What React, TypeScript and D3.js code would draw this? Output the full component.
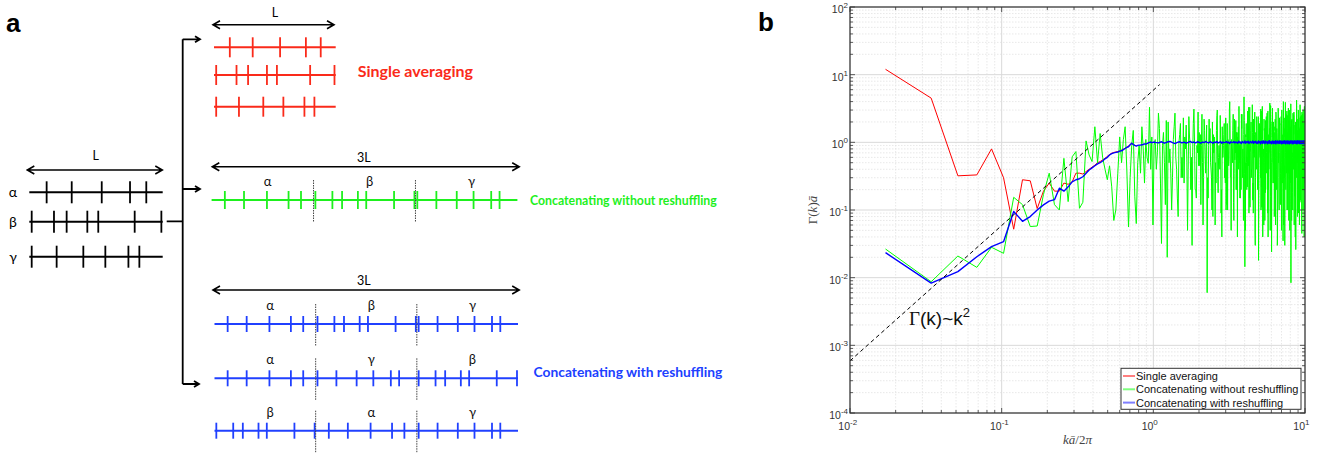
import React from "react";
import * as d3 from "d3";

const W = 1323;
const H = 457;

// ---------- panel a : spike positions along one window, as a fraction of L ----------
const ALPHA = [0.13, 0.318, 0.543, 0.755, 0.877];
const BETA = [0.018, 0.185, 0.28, 0.435, 0.517, 0.79, 0.99];
const GAMMA = [0.018, 0.205, 0.405, 0.57, 0.743, 0.825];
const TRAIN_NAMES = ["α", "β", "γ"];
const RESHUFFLED = [
  ["α", "β", "γ"],
  ["α", "γ", "β"],
  ["β", "α", "γ"],
];

// ---------- panel b : structure factor, sampled at k = n * DK ----------
const DK = 0.01715;
// n = 1..45
const RED_HEAD = [
  12, 4.5, 0.32, 0.33, 0.8, 0.3, 0.052, 0.28, 0.27, 0.105,
  0.19, 0.25, 0.19, 0.19, 0.25, 0.24, 0.26, 0.35, 0.35, 0.34,
  0.37, 0.4, 0.43, 0.46, 0.5, 0.52, 0.55, 0.58, 0.62, 0.66,
  0.69, 0.71, 0.72, 0.73, 0.75, 0.77, 0.79, 0.82, 0.85, 0.88,
  0.93, 0.96, 0.93, 0.9, 0.89,
];
// n = 1..59
const GREEN_HEAD = [
  0.0265, 0.0087, 0.0209, 0.0142, 0.0281, 0.0229, 0.154, 0.12, 0.057, 0.058,
  0.17, 0.35, 0.12, 0.1, 0.58, 0.133, 0.61, 0.73, 0.106, 0.13,
  1.05, 0.65, 0.52, 1.7, 0.5, 1.35, 0.6, 0.4, 0.28, 0.45,
  0.22, 0.07, 0.1, 0.35, 1.2, 0.5, 1.1, 1.7, 0.39, 0.056,
  0.3, 0.9, 1.5, 0.16, 0.063, 0.5, 0.9, 0.35, 1.7, 0.8,
  0.25, 1.1, 0.6, 0.49, 3.3, 0.4, 1.2, 0.06, 0.9,
];
const BLUE_HEAD = [
  0.0234, 0.0083, 0.0123, 0.0204, 0.0287, 0.034, 0.095, 0.068, 0.08, 0.1,
  0.119, 0.135, 0.142, 0.21, 0.19, 0.22, 0.26, 0.28, 0.29, 0.31,
  0.35, 0.39, 0.42, 0.45, 0.48, 0.5, 0.53, 0.57, 0.6, 0.65,
  0.68, 0.7, 0.71, 0.72, 0.74, 0.75, 0.78, 0.81, 0.84, 0.86,
  0.92, 0.97, 0.93, 0.9, 0.88, 0.9, 0.91, 0.91, 0.92, 0.93,
  0.95, 0.94, 0.96, 0.98, 1.0, 1.01, 0.99, 1.0, 1.01,
];
// tails: n = 60 + 3i (A), 61 + 3i (B), 62 + 3i (C)
const TAIL_START = 60;
const TAIL_STEP = 3;
const GREEN_TAIL_A = [
  1.1, 2.7, 0.032, 0.5, 0.02, 0.8, 0.3, 2.7, 0.15, 1.3, 0.6, 0.25, 1.8, 0.4, 0.9, 0.03, 3.1, 0.2, 0.7, 1.4, 0.12, 0.5, 2.2, 0.35, 0.006,
  0.9, 1.6, 0.3, 0.08, 1.2, 0.5, 2.5, 0.18, 0.7, 1.1, 0.04, 0.6, 1.9, 0.25, 1.0, 0.1, 0.45, 4.0, 0.3, 0.8, 1.5, 0.07, 0.55, 2.1, 0.2,
  1.2, 0.4, 0.9, 0.15, 2.6, 0.6, 0.35, 4.7, 0.0145, 1.3, 0.5, 0.22, 1.7, 0.09, 3.3, 0.8, 0.3, 1.0, 0.14, 2.2, 0.6, 0.05, 1.4, 0.4, 0.9,
  0.25, 0.018, 1.8, 0.7, 0.3, 2.9, 0.11, 1.1, 0.5, 0.06, 1.6, 0.8, 0.2, 2.4, 0.45, 1.0, 0.04, 1.3, 0.7, 3.8, 0.16, 0.9, 0.024, 2.0, 0.5,
  1.2, 0.3, 0.08, 1.7, 0.6, 2.8, 0.2, 0.95, 0.04, 1.4, 0.5, 0.12, 2.3, 0.7, 0.35, 1.1, 0.05, 1.9, 0.4, 0.9, 4.0, 0.15, 0.6, 0.03, 1.5,
  0.3, 2.6, 0.8, 0.1, 1.2, 0.45, 3.2, 0.07, 0.9, 1.6, 0.25, 0.55, 0.0084, 2.1, 1.0, 0.6, 0.18, 2.7, 0.4, 1.3, 0.06, 0.8, 1.8, 0.3, 0.026,
  1.1, 4.2, 0.5, 0.2, 1.5, 0.7, 0.09, 2.3, 0.4, 1.0, 0.13, 1.7, 0.6, 0.3, 2.5, 0.05, 0.9, 1.2, 0.35, 3.0, 0.2, 0.8, 0.04, 1.4, 0.6,
];
const GREEN_TAIL_B = [
  0.4, 1.6, 0.9, 0.12, 2.0, 0.35, 1.1, 0.6, 0.08, 1.9, 0.3, 1.2, 0.5, 2.4, 0.2, 0.7, 1.0, 0.15, 2.8, 0.45, 0.9, 0.06, 1.5, 0.7, 0.3,
  2.2, 0.5, 0.1, 1.3, 0.8, 0.25, 3.0, 0.6, 0.4, 0.09, 1.7, 0.9, 0.3, 2.3, 0.12, 1.1, 0.55, 1.8, 0.05, 0.8, 2.6, 0.35, 1.0, 0.2, 1.4,
  0.6, 3.4, 0.15, 0.9, 1.6, 0.3, 0.07, 2.1, 0.5, 1.2, 0.2, 2.9, 0.45, 0.8, 0.11, 1.5, 0.4, 3.6, 0.25, 0.7, 1.3, 0.03, 1.0, 2.4, 0.35,
  0.9, 0.14, 1.9, 0.6, 3.1, 0.22, 1.1, 0.04, 0.8, 2.2, 0.5, 0.18, 1.4, 0.7, 2.7, 0.09, 1.0, 0.4, 1.6, 0.3, 3.5, 0.6, 0.13, 1.2, 0.5,
  2.0, 0.25, 0.8, 1.5, 0.06, 2.6, 0.4, 1.1, 0.2, 3.2, 0.7, 0.1, 1.8, 0.45, 0.9, 2.4, 0.15, 1.3, 0.55, 0.035, 2.1, 0.8, 0.3, 1.6, 3.9,
  0.2, 1.0, 0.6, 2.5, 0.12, 1.4, 0.35, 0.8, 3.0, 0.05, 1.7, 0.5, 1.0, 0.25, 2.2, 0.7, 0.1, 1.5, 0.4, 2.8, 0.9, 0.16, 1.2, 0.6, 2.0,
  0.3, 3.3, 0.7, 0.08, 1.4, 0.5, 2.4, 0.2, 1.0, 0.6, 3.6, 0.14, 0.9, 1.8, 0.35, 0.045, 1.3, 2.6, 0.5, 0.8, 0.2, 1.6, 3.1, 0.4, 1.0,
];
const GREEN_TAIL_C = [
  0.7, 0.25, 1.4, 2.1, 0.5, 0.1, 1.7, 0.4, 1.0, 0.3, 2.3, 0.8, 0.05, 1.2, 0.6, 1.9, 0.2, 0.9, 0.45, 1.3, 2.6, 0.3, 0.7, 1.8, 0.15,
  1.0, 0.4, 2.0, 0.7, 0.06, 1.5, 0.3, 0.9, 2.5, 0.2, 0.6, 1.3, 0.45, 0.1, 1.9, 0.8, 3.0, 0.3, 1.1, 0.5, 0.13, 2.2, 0.7, 1.4, 0.04,
  1.7, 0.5, 1.0, 0.2, 2.6, 0.8, 1.3, 0.35, 0.05, 1.9, 0.6, 1.1, 3.3, 0.15, 0.7, 2.0, 0.4, 1.4, 0.09, 0.9, 2.8, 0.3, 0.6, 1.5, 0.2,
  2.4, 0.4, 0.8, 1.7, 0.1, 1.2, 3.4, 0.3, 0.6, 1.5, 0.07, 2.1, 0.9, 0.35, 1.3, 2.9, 0.2, 0.7, 1.1, 0.05, 1.9, 0.5, 1.0, 3.2, 0.25,
  0.6, 1.4, 0.15, 2.2, 0.8, 0.4, 1.6, 0.03, 1.1, 2.7, 0.3, 0.7, 1.9, 0.12, 1.0, 0.5, 3.0, 0.25, 1.3, 0.8, 0.06, 2.3, 0.45, 1.2, 0.7,
  1.6, 0.35, 2.9, 0.8, 0.1, 1.2, 0.5, 2.1, 0.2, 1.4, 0.9, 3.7, 0.3, 0.07, 1.7, 0.6, 1.1, 0.4, 2.5, 0.15, 0.8, 1.3, 0.04, 2.0, 0.5,
  1.2, 0.6, 2.2, 0.15, 1.0, 3.0, 0.4, 0.8, 0.06, 1.6, 0.3, 2.4, 0.9, 0.5, 1.4, 2.8, 0.2, 0.7, 0.1, 1.9, 0.5, 1.1, 3.4, 0.25, 0.8,
];
const BLUE_TAIL = [
  1.0, 0.98, 1.02, 0.97, 1.01, 1.03, 0.99, 0.96, 1.0, 1.02, 0.98, 1.01, 0.97, 1.0, 1.03, 0.99, 1.01, 0.98, 1.02, 1.0, 0.97, 1.01, 0.99, 1.03, 1.0,
  0.98, 1.02, 1.0, 0.97, 1.01, 0.99, 1.03, 0.98, 1.0, 1.02, 0.97, 1.01, 0.99, 1.0, 1.03, 0.98, 1.01, 0.96, 1.02, 1.0, 0.99, 1.03, 0.98, 1.01, 1.0,
  0.97, 1.04, 0.99, 1.01, 0.96, 1.03, 1.0, 0.98, 1.05, 0.97, 1.02, 0.99, 1.04, 0.96, 1.01, 1.03, 0.98, 1.0, 1.05, 0.97, 1.02, 0.99, 1.04, 0.97, 1.01,
  0.96, 1.05, 0.99, 1.02, 0.95, 1.04, 1.0, 0.97, 1.06, 0.98, 1.03, 0.96, 1.05, 0.99, 1.01, 0.95, 1.04, 0.98, 1.06, 0.97, 1.02, 1.0, 0.95, 1.05, 0.98,
  1.04, 0.96, 1.02, 0.98, 1.06, 0.95, 1.03, 0.99, 1.05, 0.96, 1.01, 1.04, 0.97, 1.06, 0.98, 1.02, 0.95, 1.05, 1.0, 0.96, 1.04, 0.98, 1.06, 0.97, 1.03,
  0.95, 1.05, 0.99, 1.03, 0.96, 1.06, 0.98, 1.02, 0.95, 1.04, 1.0, 0.97, 1.06, 0.99, 1.03, 0.95, 1.05, 0.98, 1.02, 0.96, 1.06, 0.99, 1.03, 0.97, 1.05,
  0.98, 1.04, 0.95, 1.06, 1.0, 0.97, 1.05, 0.98, 1.03, 0.96, 1.06, 0.99, 1.02, 0.95, 1.05, 0.97, 1.04, 1.0, 0.96, 1.06, 0.98, 1.03, 0.95, 1.05, 1.0,
];
// guide line  Γ = C k^2
const FIT_C = 5.9;
const FIT_K = [0.01, 1.1];

const X_EXP = [-2, -1, 0, 1];
const Y_EXP = [-4, -3, -2, -1, 0, 1, 2];
const LEGEND = ["Single averaging", "Concatenating without reshuffling", "Concatenating with reshuffling"];

const RED = "#fa2a1a";
const GREEN = "#1ef01e";
const BLUE = "#2040ff";
const LINE_RED = "#ff0000";
const LINE_GREEN = "#00ff00";
const LINE_BLUE = "#0000ff";
const AX = "#333333";

const TRAIN: Record<string, number[]> = { α: ALPHA, β: BETA, γ: GAMMA };
const FONT_A = "Lato, 'Liberation Sans', sans-serif";
const FONT_B = "'Liberation Sans', Arial, sans-serif";
const SERIF = "'Liberation Serif', 'DejaVu Serif', serif";

function Arrow2({ x0, x1, y }: { x0: number; x1: number; y: number }) {
  const h = 7, w = 4;
  return (
    <path
      d={`M${x0},${y}H${x1}M${x0 + h},${y - w}L${x0},${y}L${x0 + h},${y + w}M${x1 - h},${y - w}L${x1},${y}L${x1 - h},${y + w}`}
      stroke="#000" strokeWidth={1.6} fill="none"
    />
  );
}

function ArrowR({ x0, x1, y }: { x0: number; x1: number; y: number }) {
  return (
    <path d={`M${x0},${y}H${x1}M${x1 - 5},${y - 3}L${x1},${y}L${x1 - 5},${y + 3}`}
      stroke="#000" strokeWidth={1.8} fill="none" />
  );
}

function Train({ x0, x1, y, order, color, half, labels }: {
  x0: number; x1: number; y: number; order: string[]; color: string; half: number; labels?: boolean;
}) {
  const seg = (x1 - x0) / order.length;
  return (
    <g>
      <line x1={x0} x2={x1} y1={y} y2={y} stroke={color} strokeWidth={2} />
      {order.map((name, i) => {
        const s = d3.scaleLinear().domain([0, 1]).range([x0 + i * seg, x0 + (i + 1) * seg]);
        return (
          <g key={i}>
            {TRAIN[name].map((t, j) => (
              <line key={j} x1={s(t)} x2={s(t)} y1={y - half} y2={y + half} stroke={color} strokeWidth={1.8} />
            ))}
            {labels && (
              <text x={s(0.5) + 5} y={y - 14} textAnchor="middle" fontSize={13} fontFamily={FONT_A} fill="#111">{name}</text>
            )}
            {labels && i > 0 && (
              <line x1={s(0)} x2={s(0)} y1={y - 20} y2={y + 22} stroke="#444" strokeWidth={1} strokeDasharray="1.5,1" />
            )}
          </g>
        );
      })}
    </g>
  );
}

function PanelA() {
  const leftY = [192.3, 221.7, 256.7];
  const redY = [47.3, 75, 106.7];
  const blueY = [324, 378.3, 430.7];
  return (
    <g>
      <text x={6} y={32} fontSize={26} fontWeight="bold" fontFamily={FONT_B}>a</text>

      {/* original three sequences */}
      <Arrow2 x0={27.3} x1={162.3} y={170} />
      <text x={95.7} y={160} textAnchor="middle" fontSize={12.5} fontFamily={FONT_A}>L</text>
      {TRAIN_NAMES.map((n, i) => (
        <g key={n}>
          <text x={13} y={leftY[i] + 5} textAnchor="middle" fontSize={14} fontFamily={FONT_A}>{n}</text>
          <Train x0={29.3} x1={162.7} y={leftY[i]} order={[n]} color="#000" half={11} />
        </g>
      ))}

      {/* bracket */}
      <path d="M166.7,221.3H182.7M182.7,39.3V384" stroke="#000" strokeWidth={1.8} fill="none" />
      <ArrowR x0={182.7} x1={200} y={39.3} />
      <ArrowR x0={182.7} x1={200} y={189} />
      <ArrowR x0={182.7} x1={199} y={384} />

      {/* single averaging */}
      <Arrow2 x0={213} x1={334} y={24.7} />
      <text x={275} y={16.5} textAnchor="middle" fontSize={12.5} fontFamily={FONT_A}>L</text>
      {TRAIN_NAMES.map((n, i) => (
        <Train key={n} x0={214} x1={335.7} y={redY[i]} order={[n]} color={RED} half={10} />
      ))}
      <text x={357.7} y={77} fontSize={16} fontWeight="bold" fontFamily={FONT_A} fill={RED}>Single averaging</text>

      {/* concatenating without reshuffling */}
      <Arrow2 x0={212.3} x1={519.2} y={166.7} />
      <text x={363.8} y={162} textAnchor="middle" fontSize={12.5} fontFamily={FONT_A}>3L</text>
      <Train x0={211.6} x1={517.4} y={200} order={TRAIN_NAMES} color={GREEN} half={9} labels />
      <text x={530} y={204.5} fontSize={12.3} fontWeight="bold" fontFamily={FONT_A} fill={GREEN}>Concatenating without reshuffling</text>

      {/* concatenating with reshuffling */}
      <Arrow2 x0={213} x1={519.2} y={290} />
      <text x={363.8} y={285} textAnchor="middle" fontSize={12.5} fontFamily={FONT_A}>3L</text>
      {RESHUFFLED.map((ord, i) => (
        <Train key={i} x0={214.5} x1={518} y={blueY[i]} order={ord} color={BLUE} half={8} labels />
      ))}
      <text x={533.6} y={376.5} fontSize={13.8} fontWeight="bold" fontFamily={FONT_A} fill={BLUE}>Concatenating with reshuffling</text>
    </g>
  );
}

function PanelB() {
  const x = d3.scaleLog().domain([0.01, 10]).range([850, 1305]);
  const y = d3.scaleLog().domain([1e-4, 100]).range([413, 7]);
  const [xl, xr] = x.range();
  const [yb, yt] = y.range();

  const xMinor: number[] = [];
  X_EXP.slice(0, -1).forEach((e) => { for (let m = 2; m <= 9; m++) xMinor.push(m * 10 ** e); });
  const yMinor: number[] = [];
  Y_EXP.slice(0, -1).forEach((e) => { for (let m = 2; m <= 9; m++) yMinor.push(m * 10 ** e); });

  const head = (arr: number[]) => arr.map((v, i) => [(i + 1) * DK, v] as [number, number]);
  const tail = (arr: number[], off = 0) =>
    arr.map((v, i) => [(TAIL_START + off + i * TAIL_STEP) * DK, v] as [number, number]);
  const line = d3.line<[number, number]>().x((d) => x(d[0])).y((d) => y(d[1]));

  const redPts = head(RED_HEAD);
  const greenTail = [...tail(GREEN_TAIL_A, 0), ...tail(GREEN_TAIL_B, 1), ...tail(GREEN_TAIL_C, 2)]
    .sort((a, b) => a[0] - b[0]);
  const greenPts = [...head(GREEN_HEAD), ...greenTail];
  const bluePts = [...head(BLUE_HEAD), ...tail(BLUE_TAIL)];
  const fitPts = FIT_K.map((k) => [k, FIT_C * k * k] as [number, number]);

  const lg = { x: 1121, y: 368.3, w: 180, h: 41 };

  return (
    <g>
      <text x={758} y={31} fontSize={26} fontWeight="bold" fontFamily={FONT_B}>b</text>
      <rect x={xl} y={yt} width={xr - xl} height={yb - yt} fill="#fff" />
      {/* grid */}
      <g stroke="#e2e2e2" strokeWidth={0.8} strokeDasharray="1.5,1.5">
        {xMinor.map((v) => <line key={"gx" + v} x1={x(v)} x2={x(v)} y1={yt} y2={yb} />)}
        {yMinor.map((v) => <line key={"gy" + v} x1={xl} x2={xr} y1={y(v)} y2={y(v)} />)}
      </g>
      <g stroke="#d9d9d9" strokeWidth={1}>
        {X_EXP.map((e) => <line key={"Gx" + e} x1={x(10 ** e)} x2={x(10 ** e)} y1={yt} y2={yb} />)}
        {Y_EXP.map((e) => <line key={"Gy" + e} x1={xl} x2={xr} y1={y(10 ** e)} y2={y(10 ** e)} />)}
      </g>

      <defs>
        <clipPath id="plotclip"><rect x={xl} y={yt} width={xr - xl} height={yb - yt} /></clipPath>
      </defs>
      <g clipPath="url(#plotclip)" fill="none" strokeLinejoin="round">
        <path d={line(redPts) ?? ""} stroke={LINE_RED} strokeWidth={1} />
        <path d={line(greenPts) ?? ""} stroke={LINE_GREEN} strokeWidth={1} />
        <path d={line(bluePts) ?? ""} stroke={LINE_BLUE} strokeWidth={1.4} />
        <path d={line(fitPts) ?? ""} stroke="#000" strokeWidth={1} strokeDasharray="4,3" />
      </g>

      {/* box + ticks */}
      <rect x={xl} y={yt} width={xr - xl} height={yb - yt} fill="none" stroke={AX} strokeWidth={1.2} />
      <g stroke={AX} strokeWidth={0.8}>
        {X_EXP.map((e) => (
          <g key={"tx" + e}>
            <line x1={x(10 ** e)} x2={x(10 ** e)} y1={yb} y2={yb - 5} />
            <line x1={x(10 ** e)} x2={x(10 ** e)} y1={yt} y2={yt + 5} />
          </g>
        ))}
        {xMinor.map((v) => (
          <g key={"mx" + v}>
            <line x1={x(v)} x2={x(v)} y1={yb} y2={yb - 3} />
            <line x1={x(v)} x2={x(v)} y1={yt} y2={yt + 3} />
          </g>
        ))}
        {Y_EXP.map((e) => (
          <g key={"ty" + e}>
            <line x1={xl} x2={xl + 5} y1={y(10 ** e)} y2={y(10 ** e)} />
            <line x1={xr} x2={xr - 5} y1={y(10 ** e)} y2={y(10 ** e)} />
          </g>
        ))}
        {yMinor.map((v) => (
          <g key={"my" + v}>
            <line x1={xl} x2={xl + 3} y1={y(v)} y2={y(v)} />
            <line x1={xr} x2={xr - 3} y1={y(v)} y2={y(v)} />
          </g>
        ))}
      </g>

      {/* tick labels */}
      <g fontFamily={FONT_B} fill={AX}>
        {X_EXP.map((e) => (
          <g key={"lx" + e}>
            <text x={x(10 ** e)} y={430} textAnchor="end" fontSize={10.5}>10</text>
            <text x={x(10 ** e)} y={425} fontSize={8}>{e}</text>
          </g>
        ))}
        {Y_EXP.map((e) => (
          <text key={"ly" + e} x={848} y={y(10 ** e) + 6} textAnchor="end" fontSize={10.5}>
            10<tspan dy={-5} fontSize={8}>{e}</tspan>
          </text>
        ))}
      </g>

      {/* axis labels */}
      <text x={1077.5} y={444} textAnchor="middle" fontSize={13} fontFamily={SERIF} fill="#444">
        <tspan fontStyle="italic">kā</tspan>/2<tspan fontStyle="italic">π</tspan>
      </text>
      <text transform="translate(817,210) rotate(-90)" textAnchor="middle" fontSize={13} fontFamily={SERIF} fill="#444">
        Γ(<tspan fontStyle="italic">k</tspan>)<tspan fontStyle="italic">ā</tspan>
      </text>

      {/* annotation */}
      <text x={909} y={325} fontSize={19} fontFamily={FONT_B} fill="#111">
        <tspan fontFamily={SERIF}>Γ</tspan>(k)~k<tspan dy={-8} fontSize={13}>2</tspan>
      </text>

      {/* legend */}
      <rect x={lg.x} y={lg.y} width={lg.w} height={lg.h} fill="#fff" stroke={AX} strokeWidth={1} />
      {LEGEND.map((name, i) => {
        const cy = lg.y + 7.7 + i * 13.3;
        const col = ["#ff7f7f", "#7fff7f", "#7f7fff"][i];
        return (
          <g key={name}>
            <line x1={lg.x + 2} x2={lg.x + 14} y1={cy} y2={cy} stroke={col} strokeWidth={2} />
            <text x={lg.x + 15} y={cy + 4} fontSize={11} fontFamily={FONT_B} fill="#111">{name}</text>
          </g>
        );
      })}
    </g>
  );
}

export default function App() {
  return (
    <div style={{ position: "fixed", left: 0, top: 0 }}>
      <svg width={W} height={H} style={{ display: "block", background: "#fff" }}>
        <PanelA />
        <PanelB />
      </svg>
    </div>
  );
}
